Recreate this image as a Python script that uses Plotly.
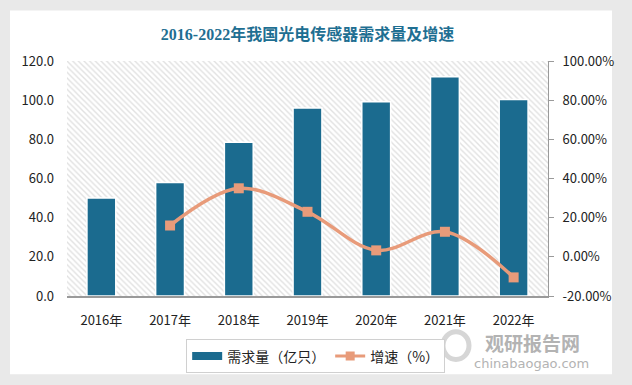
import plotly.graph_objects as go

years = ["2016年", "2017年", "2018年", "2019年", "2020年", "2021年", "2022年"]
demand = [50.0, 58.0, 78.5, 96.0, 99.2, 112.0, 100.3]
growth_years = ["2017年", "2018年", "2019年", "2020年", "2021年", "2022年"]
growth = [16.0, 35.0, 23.0, 3.3, 12.8, -10.5]

left_ticks = [0, 20, 40, 60, 80, 100, 120]
right_ticks = [-20, 0, 20, 40, 60, 80, 100]

xpos = list(range(len(years)))
gpos = [years.index(y) for y in growth_years]

BAR = "#1b6b8f"
LINE = "#e89b7a"
FONT = "Noto Sans CJK SC, Microsoft YaHei, sans-serif"

# pixel -> paper helpers (plot area: x 67..548, y 61..298)
def px(x):
    return (x - 67) / 481

def py(y):
    return (298 - y) / 237

fig = go.Figure()

x0, x1 = -0.5, len(years) - 0.5

# hatched plot background on the base (hidden) axes, drawn beneath the overlays
fig.add_trace(go.Scatter(
    x=[0, 1, 1, 0, 0], y=[0, 0, 1, 1, 0], xaxis="x", yaxis="y",
    mode="lines", line=dict(width=0), fill="toself",
    fillcolor="rgba(0,0,0,0)",
    fillpattern=dict(shape="\\", fgcolor="#c4c4c4", bgcolor="white", size=4, solidity=0.35),
    hoverinfo="skip", showlegend=False,
))

fig.add_trace(go.Bar(
    x=xpos, y=demand, name="需求量（亿只）", xaxis="x2", yaxis="y2",
    marker=dict(color=BAR, line=dict(color="white", width=1.5)),
    width=0.42, showlegend=False,
))

fig.add_trace(go.Scatter(
    x=gpos, y=growth, name="增速（%）", xaxis="x2", yaxis="y3",
    mode="lines+markers",
    line=dict(color=LINE, width=3.5, shape="spline", smoothing=1.0),
    marker=dict(symbol="square", size=10, color=LINE),
    showlegend=False,
))

# legend entries
fig.add_trace(go.Scatter(
    x=[None], y=[None], xaxis="x2", yaxis="y2", name="需求量（亿只）",
    mode="lines", line=dict(color=BAR, width=8),
))
fig.add_trace(go.Scatter(
    x=[None], y=[None], xaxis="x2", yaxis="y3", name="增速（%）",
    mode="lines+markers", line=dict(color=LINE, width=3),
    marker=dict(symbol="square", size=9, color=LINE),
))

fig.update_layout(
    width=632, height=385,
    margin=dict(l=67, r=84, t=61, b=87),
    paper_bgcolor="#e9e9e9",
    plot_bgcolor="rgba(0,0,0,0)",
    font=dict(family=FONT, size=13, color="#222222"),
    title=dict(
        text="<b>2016-2022年我国光电传感器需求量及增速</b>",
        x=0.5, xref="paper", y=1 - 34 / 385, yanchor="middle", xanchor="center",
        font=dict(family="Liberation Serif, Noto Sans CJK SC, serif", size=16, color="#1f6f92"),
    ),
    xaxis=dict(range=[0, 1], visible=False, fixedrange=True),
    yaxis=dict(range=[0, 1], visible=False, fixedrange=True),
    xaxis2=dict(
        overlaying="x", tickmode="array", tickvals=xpos, ticktext=years,
        range=[x0, x1], showgrid=False, zeroline=False,
        showline=True, linecolor="#9a9a9a", linewidth=1.5,
        ticks="", tickfont=dict(size=13, color="#222222"), side="bottom",
        ticklabelstandoff=12,
    ),
    yaxis2=dict(
        overlaying="y", side="left",
        range=[0, 120], tickvals=left_ticks, tickformat=".1f",
        showgrid=False, zeroline=False, showline=False, ticks="",
        tickfont=dict(size=13, color="#222222"), ticklabelstandoff=12,
    ),
    yaxis3=dict(
        overlaying="y", side="right", range=[-20, 100], tickvals=right_ticks,
        ticktext=[f"{v:.2f}%" for v in right_ticks],
        showgrid=False, zeroline=False,
        showline=True, linecolor="#9a9a9a", linewidth=1,
        ticks="outside", ticklen=5, tickcolor="#9a9a9a",
        tickfont=dict(size=13, color="#222222"), ticklabelstandoff=6,
    ),
    legend=dict(
        orientation="h", x=0.517, xanchor="center", y=-0.185, yanchor="top",
        bordercolor="#d0d0d0", borderwidth=1, bgcolor="white",
        font=dict(size=14, color="#222222"),
    ),
    showlegend=True,
    shapes=[
        dict(type="rect", xref="paper", yref="paper",
             x0=px(10), x1=px(612), y0=py(377), y1=py(10),
             fillcolor="white", line=dict(width=0), layer="below"),
        # watermark logo ring
        dict(type="circle", xref="paper", yref="paper",
             x0=px(443), x1=px(469), y0=py(362), y1=py(334),
             line=dict(color="#d6d6d6", width=5), fillcolor="rgba(0,0,0,0)"),
    ],
    annotations=[
        dict(text="<b>观研报告网</b>", xref="paper", yref="paper",
             x=px(532), y=py(345), xanchor="center", yanchor="middle",
             showarrow=False, font=dict(size=19, color="#b3b3b3")),
        dict(text="chinabaogao.com", xref="paper", yref="paper",
             x=px(531), y=py(366), xanchor="center", yanchor="middle",
             showarrow=False, font=dict(family="DejaVu Sans, sans-serif", size=13, color="#b3b3b3")),
    ],
)

fig.write_html("out.html", config={"displayModeBar": False},
               post_script="document.body.style.margin='0';")
